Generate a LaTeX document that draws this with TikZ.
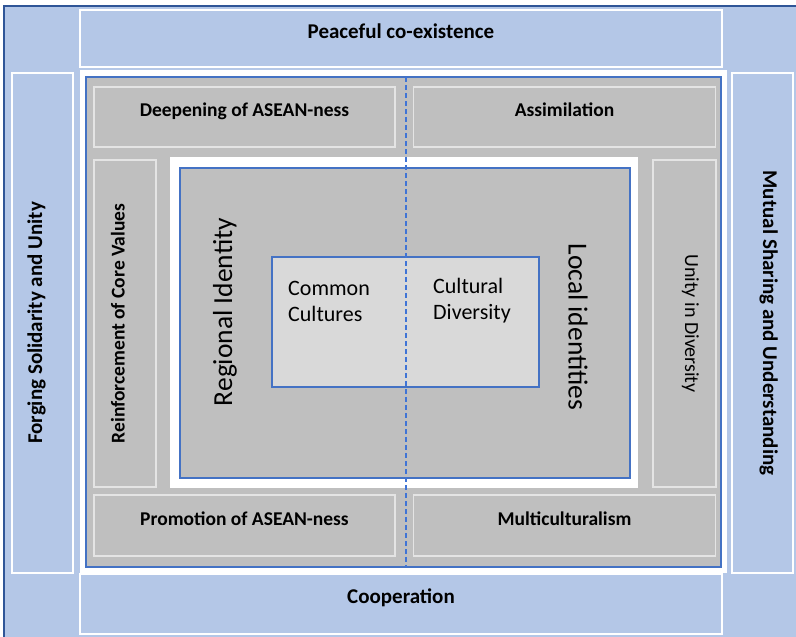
\documentclass[tikz,border=0pt]{standalone}
\usepackage{fontspec}
\setmainfont{Carlito}
\usetikzlibrary{positioning}
\definecolor{bandblue}{HTML}{B4C7E7}
\definecolor{frameblue}{HTML}{2F5597}
\definecolor{lineblue}{HTML}{4472C4}
\definecolor{dashblue}{HTML}{3F74D6}
\definecolor{tilegray}{HTML}{BFBFBF}
\definecolor{coregray}{HTML}{D9D9D9}
\definecolor{tileedge}{HTML}{E4E4E4}
\tikzstyle{band} = [rectangle, fill=bandblue, draw=white, line width=1.5pt, inner sep=0pt, text height=10pt, text depth=11pt, font=\bfseries\fontsize{21}{25}\selectfont]
\tikzstyle{tilebox} = [rectangle, fill=tilegray, draw=tileedge, line width=1.5pt, inner sep=0pt, text height=10pt, text depth=11pt, font=\bfseries\fontsize{19.5}{23}\selectfont]
\tikzstyle{grayframe} = [rectangle, fill=tilegray, draw=lineblue, line width=1.5pt, inner sep=0pt]
\tikzstyle{blank} = [rectangle, fill=white, inner sep=0pt]
\tikzstyle{divider} = [draw=dashblue, line width=2pt, dash pattern=on 5pt off 3pt]

\begin{document}
\begin{tikzpicture}[x=1pt,y=-1pt]
      \useasboundingbox (0,0) rectangle (796,637);
      \fill [bandblue] (4,6) rectangle (800,640);
      \draw [frameblue, line width=1.5pt] (4,640) -- (4,6) -- (800,6);

      \node (peace) [band, minimum width=642pt, minimum height=57pt] at (401,38.5) {Peaceful co-existence};
      \node (coop) [band, minimum width=642pt, minimum height=60pt] at (401,604) {Cooperation};
      \node (forge) [band, rotate=90, minimum width=500pt, minimum height=61pt] at (42.5,323) {Forging Solidarity and Unity};
      \node (mutual) [band, rotate=-90, minimum width=500pt, minimum height=61pt] at (762.5,323) {Mutual Sharing and Understanding};

      \node (pad) [blank, minimum width=647pt, minimum height=503pt] at (403.5,321.5) {};
      \node (core) [grayframe, minimum width=635pt, minimum height=490pt] at (403.5,322) {};

      \node (deep) [tilebox, minimum width=301pt, minimum height=60pt] at (244.5,117) {Deepening of ASEAN-ness};
      \node (assim) [tilebox, minimum width=302pt, minimum height=60pt, right=17pt of deep] {Assimilation};
      \node (promo) [tilebox, minimum width=301pt, minimum height=61pt] at (244.5,525.5) {Promotion of ASEAN-ness};
      \node (multi) [tilebox, minimum width=302pt, minimum height=61pt, right=17pt of promo] {Multiculturalism};
      \node (reinf) [tilebox, rotate=90, minimum width=327pt, minimum height=62pt] at (125,323.5) {Reinforcement of Core Values};
      \node (unity) [tilebox, rotate=-90, minimum width=327pt, minimum height=63pt, font=\fontsize{20}{24}\selectfont] at (684.5,323.5) {Unity in Diversity};

      \node (inner) [blank, minimum width=468pt, minimum height=331pt] at (404,322.5) {};
      \node (ident) [grayframe, minimum width=450pt, minimum height=310pt] at (405,323) {};
      \node (heart) [grayframe, fill=coregray, minimum width=267pt, minimum height=130pt] at (405.5,322) {};

      \coordinate (dtop) at (405.5,77);
      \coordinate (dbot) at (405.5,567);
      \draw [divider] (dtop) -- (dbot);

      \node (regional) [rotate=90, inner sep=0pt, font=\fontsize{27.5}{33}\selectfont] at (225,312) {Regional Identity};
      \node (local) [rotate=-90, inner sep=0pt, font=\fontsize{27.5}{33}\selectfont] at (578,327) {Local identities};
      \node (common) [anchor=west, align=left, inner sep=0pt, font=\fontsize{22}{26}\selectfont] at (288,301) {Common\\Cultures};
      \node (diverse) [anchor=west, align=left, inner sep=0pt, font=\fontsize{22}{26}\selectfont] at (433,301) {Cultural\\Diversity};
    \end{tikzpicture}
\end{document}
